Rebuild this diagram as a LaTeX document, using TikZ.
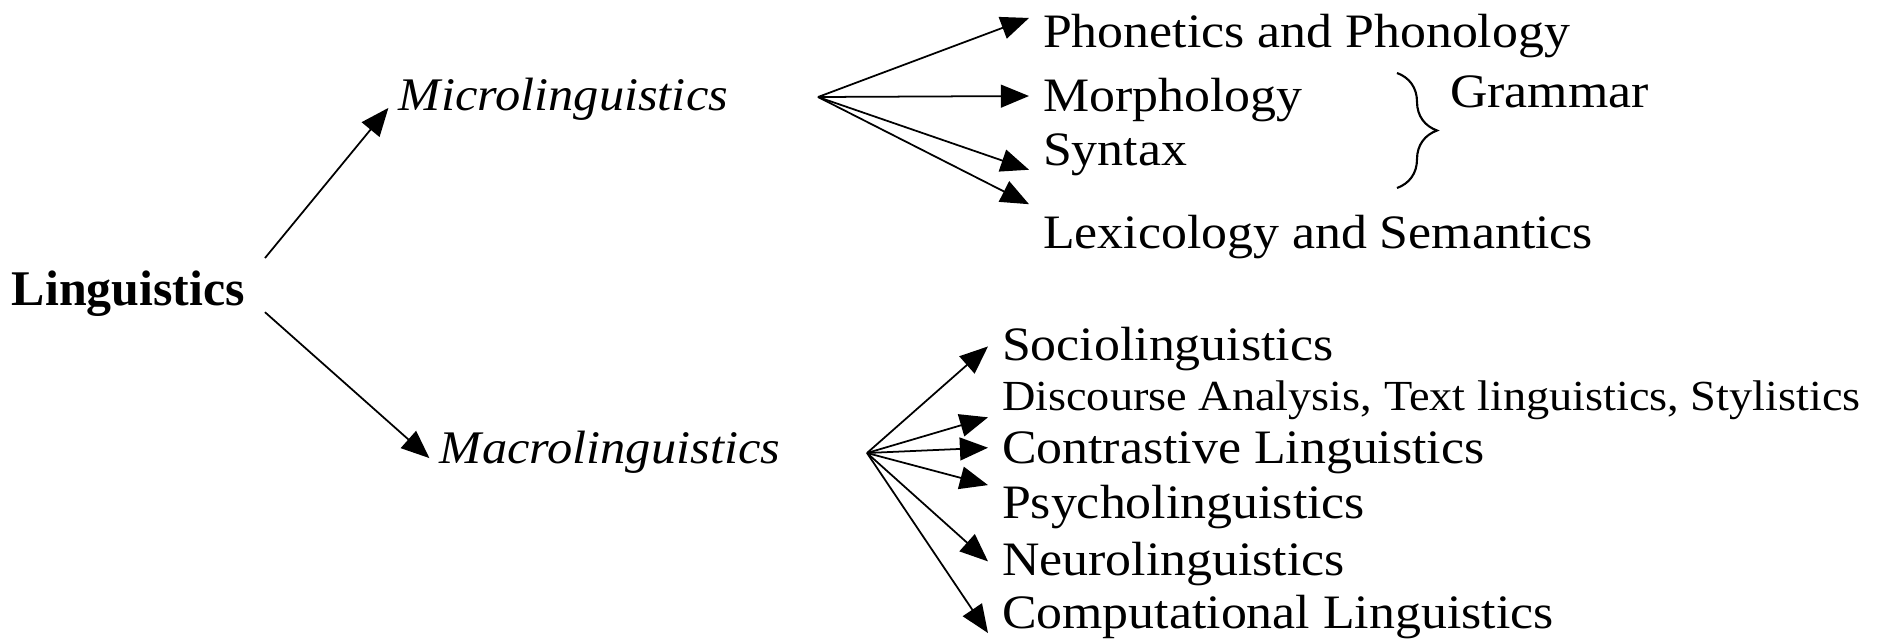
\documentclass[tikz,border=0pt]{standalone}
\usepackage{fontspec}
\setmainfont{Liberation Serif}[FakeStretch=1.08]
\newfontfamily\plainserif{Liberation Serif}
\usetikzlibrary{arrows.meta,decorations.pathreplacing}
\tikzset{
    root/.style={anchor=base west, inner sep=0pt, outer sep=0.2cm,
                 font=\plainserif\bfseries\fontsize{14.2}{17}\selectfont},
    branch/.style={anchor=base west, inner sep=0pt, outer sep=3pt,
                   font=\itshape\fontsize{13.3}{16}\selectfont},
    leaf/.style={anchor=base west, inner sep=0pt, outer sep=4pt,
                 font=\fontsize{13.66}{16}\selectfont},
    arr/.style={-{Triangle[length=8pt,width=6.5pt]}, line width=0.5pt},
}

\begin{document}
\begin{tikzpicture}
    \useasboundingbox (0,0) rectangle (18.88,6.4);

    % Main term and the two branches
    \node[root] (ling) at (-0.08,3.35) {Linguistics};
    \node[branch] (micro) at (3.884,5.30) {Microlinguistics};
    \node[branch] (macro) at (4.294,1.77) {Macrolinguistics};

    % Points where the fans start
    \coordinate (mifan) at (8.18,5.43);
    \coordinate (mafan) at (8.67,1.87);

    % Subfields
    \foreach \name/\y/\txt in {phon/5.93/Phonetics and Phonology, morph/5.29/Morphology,
                               syn/4.75/Syntax, lex/3.92/Lexicology and Semantics}
        \node[leaf] (\name) at (10.29,\y) {\txt};
    \foreach \name/\y/\txt in {socio/2.80/Sociolinguistics, contr/1.77/Contrastive Linguistics,
                               psy/1.22/Psycholinguistics, neuro/0.65/Neurolinguistics,
                               comp/0.12/Computational Linguistics}
        \node[leaf] (\name) at (9.88,\y) {\txt};
    \node[leaf, font=\fontsize{12.2}{14}\selectfont] (disc) at (9.88,2.30)
        {Discourse Analysis, Text linguistics, Stylistics};

    % Grammar brace
    \draw[decorate, decoration={brace, amplitude=0.4cm}, line width=0.6pt] (13.97,5.67) -- (13.97,4.52);
    \node[leaf] (gram) at (14.36,5.33) {Grammar};

    % Arrows
    \draw[arr] ([yshift=10pt]ling.east) -- ([yshift=-2.6pt]micro.west);
    \draw[arr] ([yshift=-5.4pt]ling.east) -- ([yshift=-1.8pt]macro.west);
    \foreach \t/\s in {phon/5pt, morph/1pt, syn/-4.4pt, lex/9.2pt}
        \draw[arr] (mifan) -- ([yshift=\s]\t.west);
    \foreach \t/\s in {socio/0.6pt, disc/-5pt, contr/1.3pt, psy/6.1pt, neuro/0.6pt, comp/-4.7pt}
        \draw[arr] (mafan) -- ([yshift=\s]\t.west);
\end{tikzpicture}
\end{document}
